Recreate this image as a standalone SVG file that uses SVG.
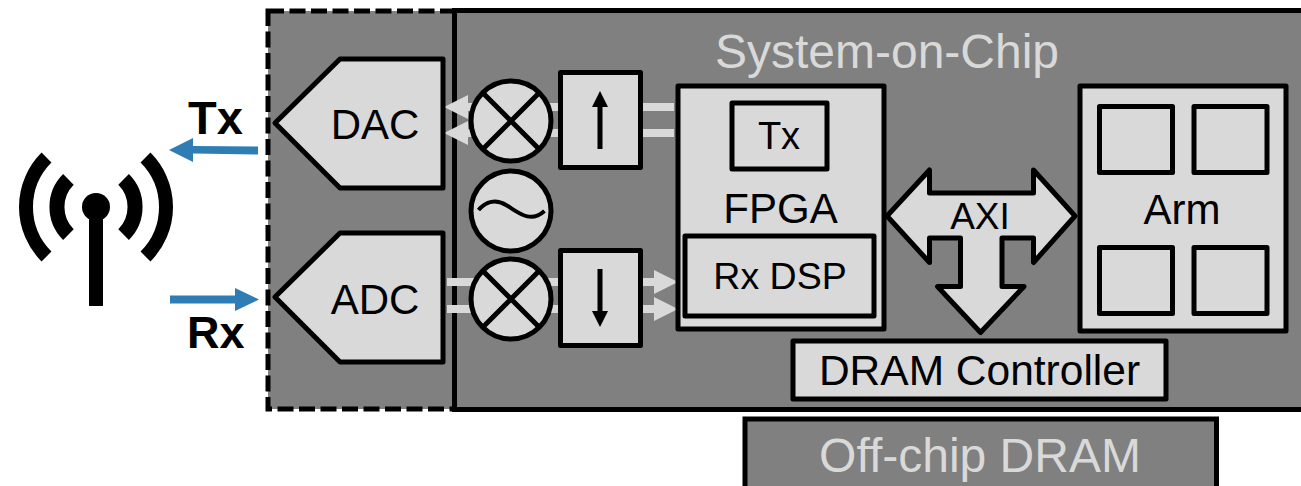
<svg xmlns="http://www.w3.org/2000/svg" width="1301" height="486" viewBox="0 0 1301 486">
<style>
text{font-family:"Liberation Sans",Arial,sans-serif;fill:#000}
.t{text-anchor:middle}
.b{fill:#d9d9d9;stroke:#000;stroke-width:5;stroke-linejoin:round}
.d{fill:#808080;stroke:#000;stroke-width:5}
.l{stroke:#000;fill:none}
.bl{fill:#2e7eb5}
.link{fill:#d9d9d9}
</style>
<rect width="1301" height="486" fill="#fff"/>
<g id="rf"><rect x="268" y="11" width="190" height="398" fill="#808080"/><rect x="268" y="11" width="190" height="398" fill="none" stroke="#000" stroke-width="5" stroke-dasharray="16 5.500"/></g>
<g id="soc"><rect class="d" x="454.500" y="10.500" width="860" height="399"/><text class="t" style="fill:#d9d9d9" x="887" y="68" font-size="48">System-on-Chip</text></g>
<g id="offchip"><rect class="d" x="745" y="419" width="471.500" height="80"/><text class="t" style="fill:#d9d9d9" x="980" y="472" font-size="48">Off-chip DRAM</text></g>
<g id="antenna" fill="none" stroke="#000"><circle cx="96" cy="207" r="14" fill="#000" stroke="none"/><rect x="89" y="207" width="14" height="99" fill="#000" stroke="none"/><path stroke-width="14" d="M46.500 157.500A70 70 0 0 0 46.500 256.500M145.500 157.500A70 70 0 0 1 145.500 256.500"/><path stroke-width="15" d="M68.400 179.400A39 39 0 0 0 68.400 234.600M123.600 179.400A39 39 0 0 1 123.600 234.600"/></g>
<g id="connectors">
<path class="bl" d="M258 146.500V154.500L193 153.500V162L169 150L193 138V146Z"/>
<path class="bl" d="M170 295.500H235V288L259 299.500L235 311V303.500H170Z"/>
<g class="link">
<path d="M468 95V103H674V111H468V119L444 107Z"/>
<path d="M468 121V129H674V137H468V145L444 133Z"/>
<path d="M447 278H654V270L678 282L654 294V286H447Z"/>
<path d="M447 305H654V297L678 309L654 321V313H447Z"/>
</g>
</g>
<g id="dac"><path class="b" d="M275 123L340 59H443V188H340Z"/><text class="t" x="375" y="139" font-size="42">DAC</text></g>
<g id="adc"><path class="b" d="M275 297L340 233H443V362H340Z"/><text class="t" x="375" y="314" font-size="42">ADC</text></g>
<g id="mixer-tx"><circle class="b" cx="511" cy="121" r="40"/><path class="l" stroke-width="5" d="M484 94L538 148M538 94L484 148"/></g>
<g id="oscillator"><circle class="b" cx="511" cy="211" r="40"/><path class="l" stroke-width="4" d="M478.500 210C486 201 496 199 506 205C518 212 530 224 544.500 211"/></g>
<g id="mixer-rx"><circle class="b" cx="511" cy="299" r="40"/><path class="l" stroke-width="5" d="M484 272L538 326M538 272L484 326"/></g>
<g id="upconv"><rect class="b" x="560.500" y="72.500" width="80" height="95"/><path d="M597.500 149V107H592L600 91L608 107H602.500V149Z"/></g>
<g id="downconv"><rect class="b" x="560.500" y="250.500" width="80" height="95"/><path d="M597.500 269V311H592L600 327L608 311H602.500V269Z"/></g>
<g id="fpga"><rect class="b" x="678" y="86" width="206" height="243"/><text class="t" x="780.500" y="223" font-size="42">FPGA</text></g>
<g id="tx"><rect class="b" x="732" y="103" width="95" height="66"/><text class="t" x="779" y="149" font-size="38">Tx</text></g>
<g id="rxdsp"><rect class="b" x="685" y="236" width="189" height="80"/><text class="t" x="780" y="289" font-size="37.500">Rx DSP</text></g>
<g id="axi"><path class="b" d="M887 216L929.500 170V193H1033.500V170L1075 216L1033.500 262.500V238H1002V286.500H1024L980.500 332.500L937.500 286.500H960.500V238H929.500V262.500Z"/><text class="t" x="980" y="229" font-size="37">AXI</text></g>
<g id="arm"><rect class="b" x="1080" y="86" width="206" height="245"/><rect class="b" x="1099.500" y="106.500" width="73" height="66"/><rect class="b" x="1194" y="106.500" width="73" height="66"/><rect class="b" x="1099.500" y="247.500" width="73" height="66"/><rect class="b" x="1194" y="247.500" width="73" height="66"/><text class="t" x="1182" y="224" font-size="42">Arm</text></g>
<g id="dram-controller"><rect class="b" x="793" y="341" width="373" height="58"/><text class="t" x="979.500" y="385" font-size="42.500">DRAM Controller</text></g>
<g id="labels"><text x="188" y="133.500" font-size="47" font-weight="bold">Tx</text>
<text x="187" y="347.500" font-size="45" font-weight="bold">Rx</text></g>
</svg>
